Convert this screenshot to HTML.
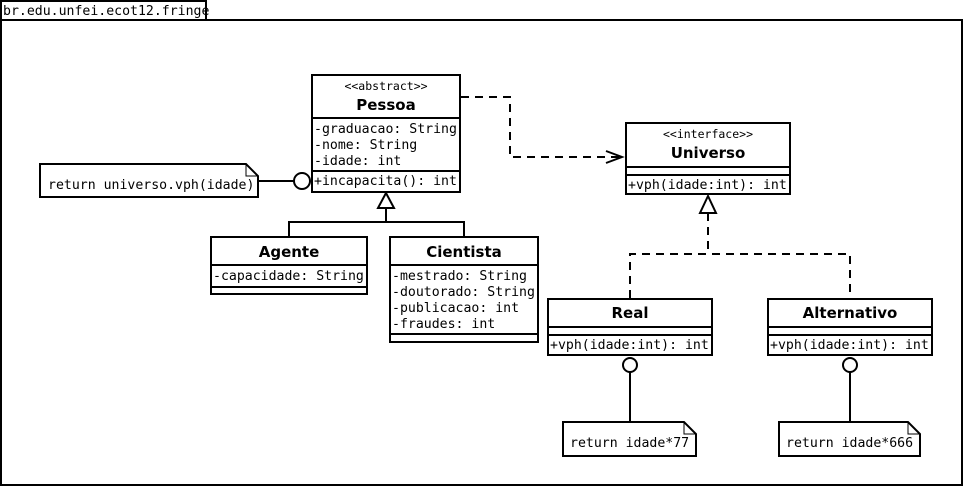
<!DOCTYPE html>
<html><head><style>body{margin:0;background:#fff}svg{display:block}
.m{font-family:"DejaVu Sans Mono","Liberation Mono",monospace;font-size:13.2px}
.b{font-family:"DejaVu Sans","Liberation Sans",sans-serif;font-size:15px;font-weight:bold}
.s{font-family:"DejaVu Sans Mono","Liberation Mono",monospace;font-size:11.5px}
</style></head><body>
<svg width="963" height="486" viewBox="0 0 963 486" xmlns="http://www.w3.org/2000/svg" fill="none" stroke="#000" stroke-width="2">
<rect x="1" y="20" width="961" height="465"/>
<rect x="1" y="1" width="205" height="19"/>
<text x="3" y="15" class="m" fill="#000" stroke="none">br.edu.unfei.ecot12.fringe</text>
<!-- Pessoa -->
<rect x="312" y="75" width="148" height="117" fill="#fff"/>
<line x1="312" y1="118" x2="460" y2="118"/><line x1="312" y1="171" x2="460" y2="171"/>
<g fill="#000" stroke="none">
<text x="386" y="90" class="s" text-anchor="middle">&lt;&lt;abstract&gt;&gt;</text>
<text x="386" y="110" class="b" text-anchor="middle">Pessoa</text>
<text x="314" y="133" class="m">-graduacao: String</text>
<text x="314" y="149" class="m">-nome: String</text>
<text x="314" y="165" class="m">-idade: int</text>
<text x="314" y="185" class="m">+incapacita(): int</text>
</g>
<!-- note -->
<path d="M40 164H246L258 176V197H40Z" fill="#fff"/><path d="M246 164V176H258" stroke-width="1"/>
<text x="48" y="189" class="m" fill="#000" stroke="none">return universo.vph(idade)</text>
<line x1="258" y1="181" x2="294" y2="181"/><circle cx="302" cy="181" r="8" fill="#fff"/>
<!-- generalization -->
<path d="M386 193L378 208H394Z" fill="#fff"/>
<path d="M386 208V222M289 237V222H464V237"/>
<rect x="211" y="237" width="156" height="57" fill="#fff"/>
<line x1="211" y1="265" x2="367" y2="265"/><line x1="211" y1="287" x2="367" y2="287"/>
<text x="289" y="257" class="b" text-anchor="middle" fill="#000" stroke="none">Agente</text>
<text x="213" y="280" class="m" fill="#000" stroke="none">-capacidade: String</text>
<rect x="390" y="237" width="148" height="105" fill="#fff"/>
<line x1="390" y1="265" x2="538" y2="265"/><line x1="390" y1="334" x2="538" y2="334"/>
<g fill="#000" stroke="none">
<text x="464" y="257" class="b" text-anchor="middle">Cientista</text>
<text x="392" y="280" class="m">-mestrado: String</text>
<text x="392" y="296" class="m">-doutorado: String</text>
<text x="392" y="312" class="m">-publicacao: int</text>
<text x="392" y="328" class="m">-fraudes: int</text>
</g>
<!-- dependency -->
<path d="M461 97H510V157H622" stroke-dasharray="8,6"/>
<path d="M606 151L622 157L606 163" />
<!-- Universo -->
<rect x="626" y="123" width="164" height="71" fill="#fff"/>
<line x1="626" y1="167" x2="790" y2="167"/><line x1="626" y1="175" x2="790" y2="175"/>
<g fill="#000" stroke="none">
<text x="708" y="138" class="s" text-anchor="middle">&lt;&lt;interface&gt;&gt;</text>
<text x="708" y="158" class="b" text-anchor="middle">Universo</text>
<text x="628" y="189" class="m">+vph(idade:int): int</text>
</g>
<path d="M708 196L700 213H716Z" fill="#fff"/>
<path d="M708 213V254M630 298V254H850V298" stroke-dasharray="8,6"/>
<!-- Real -->
<rect x="548" y="299" width="164" height="56" fill="#fff"/>
<line x1="548" y1="327" x2="712" y2="327"/><line x1="548" y1="335" x2="712" y2="335"/>
<text x="630" y="318" class="b" text-anchor="middle" fill="#000" stroke="none">Real</text>
<text x="550" y="349" class="m" fill="#000" stroke="none">+vph(idade:int): int</text>
<rect x="768" y="299" width="164" height="56" fill="#fff"/>
<line x1="768" y1="327" x2="932" y2="327"/><line x1="768" y1="335" x2="932" y2="335"/>
<text x="850" y="318" class="b" text-anchor="middle" fill="#000" stroke="none">Alternativo</text>
<text x="770" y="349" class="m" fill="#000" stroke="none">+vph(idade:int): int</text>
<!-- notes -->
<circle cx="630" cy="365" r="7" fill="#fff"/><line x1="630" y1="372" x2="630" y2="422"/>
<path d="M563 422H684L696 434V456H563Z" fill="#fff"/><path d="M684 422V434H696" stroke-width="1"/>
<text x="570" y="447" class="m" fill="#000" stroke="none">return idade*77</text>
<circle cx="850" cy="365" r="7" fill="#fff"/><line x1="850" y1="372" x2="850" y2="422"/>
<path d="M779 422H908L920 434V456H779Z" fill="#fff"/><path d="M908 422V434H920" stroke-width="1"/>
<text x="786" y="447" class="m" fill="#000" stroke="none">return idade*666</text>
</svg>
</body></html>
